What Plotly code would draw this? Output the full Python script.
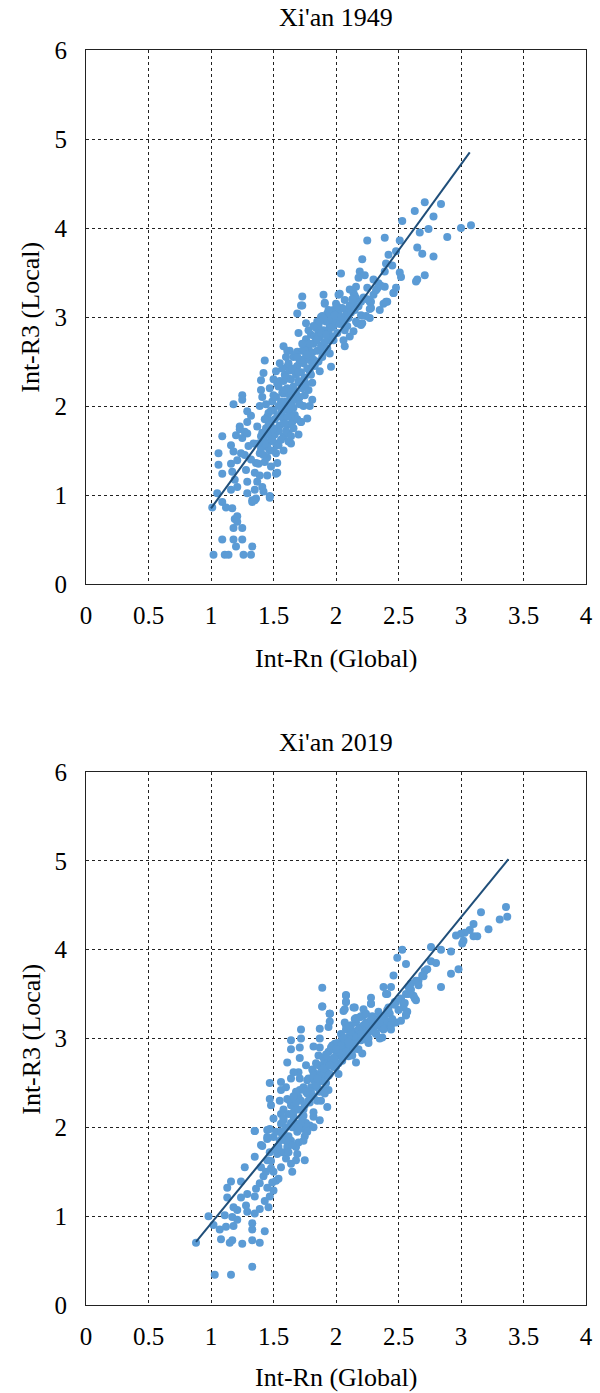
import plotly.graph_objects as go

# ---------------- data: Xi'an 1949 ----------------
x1949 = [1.01,1.09,1.12,1.17,1.19,1.21,1.21,1.18,1.25,1.09,1.18,1.25,1.20,1.33,1.02,1.11,1.14,1.26,1.32,1.47,1.36,1.33,
         1.06,1.06,1.09,1.09,1.05,1.16,1.18,1.20,1.23,1.25,1.29,1.29,1.24,1.21,1.16,1.17,1.19,1.16,1.21,1.28,1.29,1.29,1.33,1.35,1.37,1.39,1.41,1.42,1.36,1.39,1.34,1.37,1.43,1.45,1.48,1.52,1.53,1.52,1.54,1.58,1.61,1.72,1.64,1.48,1.45,1.40,1.53,
         1.18,1.25,1.25,1.29,1.32,1.23,1.27,1.40,1.40,1.41,1.43,1.42,1.39,1.45,1.48,1.52,1.54,1.58,1.60,1.61,1.62,1.58,1.57,1.61,1.65,1.62,1.69,1.70,1.69,1.73,1.73,1.76,1.75,1.67,1.71,1.70,1.74,1.77,1.75,1.81,1.82,1.84,1.85,1.86,1.87,1.79,1.90,1.91,1.93,1.95,1.94,1.90,1.95,1.96,1.98,1.99,2.00,2.02,2.07,2.11,2.10,2.07,2.11,2.07,2.14,2.16,2.14,2.16,2.21,2.20,2.27,2.28,2.35,2.38,2.41,2.46,1.98,2.06,
         2.71,2.84,2.63,2.78,2.53,2.74,2.67,3.00,3.08,2.89,2.39,2.25,2.51,2.65,2.69,2.78,2.48,2.42,2.21,2.40,2.45,2.04,2.19,2.23,2.39,2.51,2.52,2.71,2.65,2.64,2.18,2.30,2.34,2.33,2.39,2.48,2.46,2.11,2.16,2.25,2.40,2.28,2.27,2.24,1.72,1.91,2.03,2.15,2.20,2.14,2.27,2.17,2.20,1.89,1.95,2.08,2.11,1.95,
         1.42,1.44,1.46,1.47,1.48,1.49,1.50,1.51,1.52,1.53,1.54,1.55,1.55,1.56,1.57,1.58,1.59,1.60,1.60,1.61,1.62,1.63,1.63,1.64,1.65,1.66,1.66,1.67,1.68,1.68,1.69,1.70,1.71,1.71,1.72,1.73,1.73,1.74,1.75,1.76,1.76,1.77,1.78,1.78,1.79,1.80,1.80,1.81,1.82,1.83,1.84,1.85,1.86,1.87,1.88,1.88,1.89,1.90,1.91,1.92,1.93,1.94,1.96,1.97,1.98,2.00,2.01,2.02,2.03,2.05,2.06,2.08,2.09,2.12,2.13,2.15,2.18,2.22,2.25,2.30,2.32,2.36,
         1.50,1.45,1.40,1.38,1.35,1.32,1.30,1.27,1.43,1.47,1.50,1.52,1.56,1.58,1.62,1.66,1.69,1.70,1.64,1.57,1.63,1.66,1.61,
         1.81,1.79,1.72,1.64,1.53,1.47,1.35]
y1949 = [0.86,0.92,0.86,0.85,0.73,0.76,0.70,0.63,0.63,0.50,0.50,0.50,0.42,0.42,0.33,0.33,0.33,0.33,0.33,0.97,0.96,0.92,
         1.47,1.34,1.24,1.66,1.02,1.56,1.49,1.67,1.74,1.64,1.69,1.82,1.47,1.39,1.35,1.26,1.17,1.06,1.09,1.28,1.15,1.02,0.94,1.06,1.15,1.22,1.09,1.04,1.36,1.47,1.58,1.77,1.37,1.22,1.32,1.24,1.36,1.47,1.56,1.66,1.79,1.82,1.58,1.69,1.54,1.66,1.73,
         2.02,2.12,2.07,1.94,1.89,1.77,1.71,2.29,2.18,2.10,2.51,2.37,2.00,1.88,1.73,2.39,2.22,2.67,2.55,2.44,2.31,2.14,2.03,1.96,1.82,1.69,2.61,2.82,3.04,3.13,3.23,2.93,2.70,2.40,2.26,2.07,2.00,1.86,2.12,2.26,2.52,2.74,2.95,2.84,2.39,2.39,3.25,3.15,3.04,2.89,2.74,2.61,2.59,2.44,3.08,2.97,3.15,3.25,3.19,3.12,2.99,2.85,2.78,2.67,3.27,3.21,2.84,2.95,2.93,3.02,3.17,3.10,3.08,3.15,3.17,3.27,2.74,2.74,
         4.29,4.27,4.19,4.13,4.08,3.99,3.95,4.00,4.03,3.90,3.89,3.86,3.86,3.78,3.71,3.68,3.74,3.70,3.65,3.60,3.58,3.49,3.51,3.47,3.51,3.50,3.45,3.47,3.42,3.40,3.44,3.42,3.38,3.32,3.34,3.33,3.27,3.31,3.34,3.33,3.17,3.17,3.09,3.01,3.13,3.16,3.26,3.24,3.17,3.15,2.99,2.93,2.91,3.01,3.04,3.08,3.13,2.93,
         1.62,1.75,1.92,1.60,1.83,2.05,1.95,1.68,2.10,1.88,2.00,1.78,2.28,1.92,2.15,1.85,2.35,2.05,1.72,2.20,2.48,1.95,2.12,2.30,2.05,2.22,2.55,1.90,2.35,2.15,2.45,2.28,2.50,2.02,2.38,2.62,2.20,2.48,2.32,2.56,2.75,2.42,2.18,2.65,2.52,2.80,2.35,2.60,2.70,2.45,2.88,2.62,2.50,2.78,2.68,3.00,2.55,2.85,2.72,2.95,2.65,2.82,3.00,2.78,2.90,2.98,2.82,3.05,2.92,3.10,2.96,3.02,2.90,3.05,3.20,3.08,3.12,3.22,3.20,3.25,3.30,3.35,
         1.50,1.42,1.52,1.35,1.25,1.40,1.55,1.45,1.85,2.20,2.30,1.58,1.62,1.50,1.60,1.75,1.85,1.68,1.88,2.42,2.62,2.40,2.62,
         2.07,2.00,1.82,1.66,1.25,0.99,0.94]
x1949_core = [1.41,1.43,1.44,1.46,1.48,1.49,1.50,1.51,1.53,1.54,1.56,1.57,1.59,1.60,1.62,1.63,1.64,1.65,1.67,1.68,
              1.70,1.72,1.74,1.75,1.77,1.79,1.81,1.83,1.85,1.86,1.88,1.90,1.92,1.94,1.96,1.99,2.01,2.04,
              1.55,1.58,1.61,1.66,1.69,1.73,1.78,1.82,1.87,1.45,1.50,1.38,1.42,1.47,1.59,1.64,1.71,1.76]
y1949_core = [1.70,1.58,2.02,1.78,1.95,1.62,2.12,1.85,2.25,1.72,2.05,1.95,2.18,2.32,2.00,2.40,2.15,2.42,2.12,2.58,
              2.38,2.52,2.28,2.62,2.58,2.70,2.48,2.78,2.75,2.90,2.82,2.98,2.80,3.08,2.88,3.02,3.12,3.00,
              2.48,2.28,1.88,1.98,2.55,2.70,2.85,2.90,2.95,1.68,1.75,1.58,1.45,1.50,1.80,2.00,2.10,2.25]
trend1949_x = [1.00, 3.07]
trend1949_y = [0.85, 4.85]

# ---------------- data: Xi'an 2019 ----------------
x2019 = [0.88,1.03,1.16,1.33,0.98,1.02,1.07,1.08,1.15,1.17,1.25,1.33,1.39,1.33,1.43,1.12,1.18,1.11,1.17,1.21,1.21,1.18,1.13,1.13,1.16,1.24,1.24,1.27,1.29,1.33,1.35,1.39,1.46,1.35,1.36,1.39,1.43,1.47,1.50,1.52,1.35,1.40,1.35,1.45,1.45,1.45,1.48,1.50,1.53,1.56,1.61,1.64,1.65,1.68,1.75,1.70,1.79,1.82,1.66,1.58,1.50,1.53,1.29,1.28,
         1.89,2.06,2.08,2.15,1.95,1.95,1.94,1.72,1.72,1.71,1.64,1.64,1.71,1.61,1.87,1.87,1.87,1.86,1.82,1.90,1.95,1.99,1.99,2.07,2.05,2.08,2.13,2.16,2.21,2.25,2.22,2.19,2.28,2.28,2.32,2.37,2.37,2.42,2.42,2.48,2.47,2.54,2.56,2.64,
         1.47,1.56,1.56,1.64,1.70,1.71,1.77,1.82,1.92,1.98,1.47,1.48,1.61,1.64,1.70,1.79,1.85,1.91,1.93,1.56,1.58,1.66,1.74,1.82,1.87,1.82,1.74,1.65,1.35,1.47,1.41,1.45,1.57,1.64,1.68,1.74,1.54,1.77,
         3.36,3.37,3.31,3.16,3.10,3.22,3.07,3.03,3.00,2.96,3.13,3.10,3.02,3.01,2.92,2.84,2.76,2.98,2.92,2.84,2.76,2.53,2.49,2.56,2.71,2.69,2.66,2.64,2.63,2.58,2.56,2.46,2.44,2.40,2.48,2.54,2.56,2.46,2.42,2.28,2.28,2.22,2.08,2.08,2.07,2.14,2.16,2.35,2.38,1.95,2.08,2.41,2.38,
         1.89,1.89,2.08,1.95,
         1.55,1.58,1.60,1.62,1.63,1.65,1.67,1.68,1.69,1.70,1.72,1.73,1.74,1.75,1.76,1.77,1.78,1.79,1.80,1.81,1.82,1.83,1.84,1.85,1.86,1.87,1.88,1.89,1.90,1.91,1.92,1.93,1.94,1.95,1.96,1.97,1.98,2.00,2.01,2.02,2.03,2.04,2.05,2.06,2.08,2.09,2.10,2.11,2.12,2.13,2.14,2.15,2.16,2.17,2.18,2.19,2.20,2.21,2.22,2.23,2.24,2.25,2.26,2.27,2.29,2.30,2.31,2.33,2.34,2.36,2.38,2.40,2.43,2.45,2.50,2.52,2.55,2.58,2.60,2.62,2.66,2.60,2.70,2.73,2.80,2.57,2.52,2.44,2.35,2.26,2.18,2.10,1.88,1.94,2.02,1.75,1.69,1.60,1.56,1.54,1.49,1.45,1.42,1.40,1.47,1.52,1.57,1.62,1.67,1.71,1.76,1.66,1.60,1.55,1.50]
y2019 = [0.70,0.34,0.34,0.43,1.00,0.90,0.85,0.74,0.70,0.73,0.69,0.73,0.70,0.85,0.83,0.88,0.89,1.01,0.99,0.96,1.07,1.10,1.21,1.32,1.39,1.21,1.39,1.55,1.05,0.92,1.03,1.08,1.10,1.22,1.31,1.37,1.17,1.22,1.29,1.40,1.67,1.80,1.96,1.97,1.87,1.63,1.54,1.50,1.78,2.04,1.78,1.59,1.50,1.63,1.63,1.83,2.02,2.12,2.12,1.95,1.89,1.70,1.25,1.12,
         3.36,3.31,3.41,3.35,3.28,3.19,3.13,3.10,3.00,2.90,2.98,2.88,2.78,2.73,3.11,3.00,2.90,2.81,2.91,2.71,2.76,2.87,2.94,3.18,3.01,2.87,2.81,2.73,2.83,2.98,3.26,3.24,3.15,3.39,3.06,3.01,3.22,3.13,3.35,3.18,3.41,3.39,3.27,3.43,
         2.50,2.51,2.42,2.55,2.62,2.42,2.53,2.62,2.64,2.70,2.32,2.25,2.32,2.25,2.34,2.36,2.30,2.38,2.23,2.15,2.08,2.17,2.13,2.17,2.08,2.00,1.98,2.00,1.96,1.98,1.79,1.89,1.91,1.85,1.78,1.85,1.78,1.95,
         4.48,4.37,4.34,4.42,4.29,4.23,4.22,4.19,4.18,4.16,4.15,4.15,4.10,4.07,3.98,4.00,4.03,3.78,3.73,3.58,3.87,4.00,3.91,3.84,3.76,3.71,3.65,3.65,3.45,3.58,3.50,3.71,3.58,3.50,3.41,3.35,3.26,3.18,3.31,3.46,3.39,3.33,3.48,3.41,3.33,3.35,3.23,3.24,3.18,3.28,3.15,3.50,3.58,
         3.57,3.36,3.49,3.28,
         1.85,2.20,2.00,1.90,2.30,1.80,2.05,2.40,1.95,2.20,2.30,2.10,2.45,2.25,2.05,2.38,2.55,2.28,2.45,2.65,2.35,2.52,2.72,2.45,2.60,2.40,2.68,2.55,2.78,2.62,2.50,2.72,2.85,2.60,2.75,2.92,2.68,2.80,2.95,2.72,2.88,3.05,2.80,2.95,3.10,2.88,3.02,2.92,3.15,3.00,3.08,2.95,3.18,3.05,2.98,3.12,3.25,3.02,3.15,3.08,3.28,3.05,3.18,3.12,3.25,3.08,3.20,3.15,3.30,3.12,3.25,3.20,3.28,3.22,3.32,3.45,3.40,3.50,3.55,3.48,3.60,3.62,3.70,3.78,3.85,3.30,3.20,3.10,3.00,2.95,2.88,2.80,2.30,2.42,2.60,1.90,1.70,1.65,1.55,1.42,1.38,1.32,1.45,1.55,1.72,1.95,1.72,2.15,2.25,2.55,2.70,2.62,2.45,2.30,2.10]
x2019_core = [1.80,1.82,1.84,1.86,1.88,1.90,1.92,1.94,1.96,1.98,2.00,2.02,2.04,2.06,2.08,2.10,2.12,2.14,2.16,2.18,
              2.20,2.22,2.24,2.26,2.28,2.30,2.32,2.35,2.38,2.41,2.44,2.47,1.85,1.90,1.95,2.00,2.05,2.10,2.15,2.20,
              1.44,1.48,1.52,1.56,1.60,1.64,1.68,1.72,1.76,1.62,1.58,1.70,1.66,1.74,1.78]
y2019_core = [2.40,2.58,2.48,2.70,2.52,2.66,2.82,2.58,2.90,2.78,2.68,2.85,2.92,3.00,2.85,2.96,3.08,2.88,3.02,3.10,
              2.98,3.06,3.18,3.00,3.22,3.14,3.05,3.18,3.10,3.32,3.15,3.38,2.55,2.42,2.70,2.88,2.75,3.12,3.22,3.05,
              1.50,1.62,1.75,1.95,1.85,2.05,2.28,2.05,2.40,1.72,2.10,2.00,2.35,2.20,2.30]
trend2019_x = [0.88, 3.38]
trend2019_y = [0.71, 5.02]

x_ticks = [0, 0.5, 1, 1.5, 2, 2.5, 3, 3.5, 4]
y_ticks = [0, 1, 2, 3, 4, 5, 6]
titles = ["Xi'an 1949", "Xi'an 2019"]
x_title = "Int-Rn (Global)"
y_title = "Int-R3 (Local)"

assert len(x1949) == len(y1949) and len(x2019) == len(y2019)
assert len(x1949_core) == len(y1949_core) and len(x2019_core) == len(y2019_core)

# ---------------- figure ----------------
W, H = 600, 1393
L, R, T, B = 86, 7, 50, 88
ph = H - T - B
def py(p):
    return (H - B - p) / ph
def px(p):
    return (p - L) / (W - L - R)

FONT = "Liberation Serif, Times New Roman, serif"
PT = "#5B9BD5"
LN = "#1F4E79"
MS = 8

fig = go.Figure()
for xs, ys, tx, ty, xa, ya in [(x1949 + x1949_core, y1949 + y1949_core, trend1949_x, trend1949_y, "x", "y"),
                               (x2019 + x2019_core, y2019 + y2019_core, trend2019_x, trend2019_y, "x2", "y2")]:
    fig.add_trace(go.Scatter(x=xs, y=ys, mode="markers", marker=dict(color=PT, size=MS),
                             xaxis=xa, yaxis=ya, showlegend=False))
    fig.add_trace(go.Scatter(x=tx, y=ty, mode="lines", line=dict(color=LN, width=2),
                             xaxis=xa, yaxis=ya, showlegend=False))

axis_common = dict(showgrid=True, gridcolor="#222222", griddash="dot", gridwidth=1,
                   showline=True, linecolor="#222222", linewidth=1, mirror=True,
                   zeroline=False, ticks="",
                   tickfont=dict(family=FONT, size=25, color="black"))

fig.update_layout(
    width=W, height=H, margin=dict(l=L, r=R, t=T, b=B),
    font=dict(family=FONT, color="black", size=25),
    paper_bgcolor="white", plot_bgcolor="white",
    xaxis=dict(domain=[0, 1], anchor="y", range=[0, 4], tickvals=x_ticks, ticklabelstandoff=9,
               ticktext=[f"{v:g}" for v in x_ticks], **axis_common),
    yaxis=dict(domain=[py(584), 1], anchor="x", range=[0, 6], tickvals=y_ticks, ticklabelstandoff=13,
               ticktext=[str(v) for v in y_ticks], **axis_common),
    xaxis2=dict(domain=[0, 1], anchor="y2", range=[0, 4], tickvals=x_ticks, ticklabelstandoff=9,
                ticktext=[f"{v:g}" for v in x_ticks], **axis_common),
    yaxis2=dict(domain=[0, py(772)], anchor="x2", range=[0, 6], tickvals=y_ticks, ticklabelstandoff=13,
                ticktext=[str(v) for v in y_ticks], **axis_common),
)

ann = []
for t, yc in zip(titles, [17, 742]):
    ann.append(dict(text=t, x=px(339.5), y=py(yc), xref="paper", yref="paper",
                    xanchor="center", yanchor="middle", showarrow=False,
                    font=dict(family=FONT, size=26, color="black")))
for yc in [658, 1378]:
    ann.append(dict(text=x_title, x=px(339.5), y=py(yc), xref="paper", yref="paper",
                    xanchor="center", yanchor="middle", showarrow=False,
                    font=dict(family=FONT, size=26, color="black")))
for yc in [317, 1039]:
    ann.append(dict(text=y_title, x=px(30), y=py(yc), xref="paper", yref="paper",
                    xanchor="center", yanchor="middle", showarrow=False, textangle=-90,
                    font=dict(family=FONT, size=26, color="black")))
fig.update_layout(annotations=ann)

fig.write_html("out.html")
